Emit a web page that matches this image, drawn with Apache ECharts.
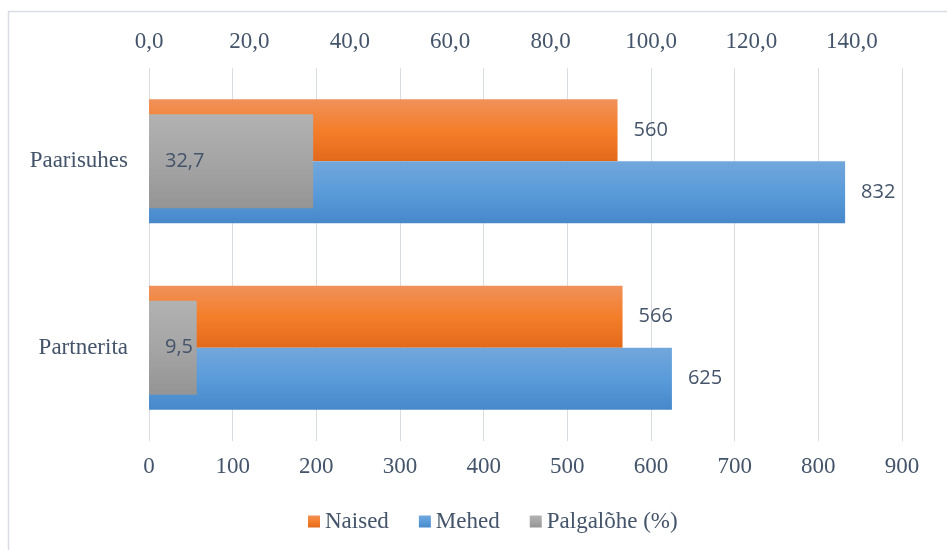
<!DOCTYPE html>
<html>
<head>
<meta charset="utf-8">
<script src="https://cdn.jsdelivr.net/npm/echarts@6/dist/echarts.min.js"></script>
<style>
  html, body { margin: 0; padding: 0; background: #fff; }
  #chart { width: 947px; height: 550px; }
</style>
</head>
<body>
<div id="chart"></div>
<script>
// Categories and series values
const categories = ['Paarisuhes', 'Partnerita'];
const naised = [560, 566];
const mehed = [832, 625];
const palgalohe = [32.7, 9.5];

// Axis ranges
const countMin = 0, countMax = 900, countStep = 100;
const pctMin = 0, pctMax = 150, pctStep = 20;

const serif = '"Liberation Serif", "Times New Roman", serif';
const sans = '"Open Sans", "Noto Sans", sans-serif';
const textColor = '#44546A';

const comma1 = v => v.toFixed(1).replace('.', ',');

function vGrad(c0, c1, c2) {
  return new echarts.graphic.LinearGradient(0, 0, 0, 1, [
    { offset: 0, color: c0 },
    { offset: 0.5, color: c1 },
    { offset: 1, color: c2 }
  ]);
}

const chart = echarts.init(document.getElementById('chart'), null, { renderer: 'canvas' });

const valueLabel = {
  show: true,
  position: 'right',
  distance: 16,
  fontFamily: sans,
  fontSize: 20,
  color: textColor
};

chart.setOption({
  animation: false,
  backgroundColor: '#ffffff',
  textStyle: { fontFamily: serif },
  graphic: [{
    type: 'rect',
    shape: { x: 8.5, y: 11.5, width: 960, height: 560 },
    style: { fill: 'none', stroke: '#D9DDE3', lineWidth: 1.5 },
    silent: true
  }],
  grid: { left: 149, right: 45, top: 68, bottom: 109, containLabel: false },
  legend: {
    left: 303,
    top: 505,
    itemWidth: 12,
    itemHeight: 12,
    itemGap: 30,
    icon: 'rect',
    formatter: name => '{t|' + name + '}',
    textStyle: {
      fontFamily: 'Liberation Serif', fontSize: 23, color: textColor,
      rich: { t: { fontFamily: 'Liberation Serif', fontSize: 23, color: textColor } }
    },
    data: ['Naised', 'Mehed', 'Palgalõhe (%)']
  },
  xAxis: [{
    type: 'value',
    position: 'bottom',
    min: countMin, max: countMax, interval: countStep,
    axisLine: { show: false },
    axisTick: { show: false },
    splitLine: { show: true, lineStyle: { color: '#D9DDE3', width: 1 } },
    axisLabel: { fontFamily: serif, fontSize: 23, color: textColor, margin: 14 }
  }, {
    type: 'value',
    position: 'top',
    min: pctMin, max: pctMax, interval: pctStep,
    axisLine: { show: false },
    axisTick: { show: false },
    splitLine: { show: false },
    axisLabel: {
      fontFamily: serif, fontSize: 23, color: textColor, margin: 15,
      showMaxLabel: false,
      formatter: v => (v > 140 ? '' : comma1(v))
    }
  }],
  yAxis: [{
    type: 'category',
    data: categories,
    inverse: true,
    axisLine: { show: false },
    axisTick: { show: false },
    axisLabel: { fontFamily: serif, fontSize: 23, color: textColor, margin: 21 }
  }, {
    type: 'category',
    data: categories,
    inverse: true,
    show: false
  }],
  series: [{
    name: 'Naised',
    type: 'bar',
    xAxisIndex: 0, yAxisIndex: 0,
    data: naised,
    barWidth: 62,
    barGap: '0%',
    itemStyle: { color: vGrad('#F0915A', '#F47E2A', '#E3691A') },
    label: valueLabel
  }, {
    name: 'Mehed',
    type: 'bar',
    xAxisIndex: 0, yAxisIndex: 0,
    data: mehed,
    barWidth: 62,
    barGap: '0%',
    itemStyle: { color: vGrad('#72A7DC', '#5A9BDA', '#4688CA') },
    label: valueLabel
  }, {
    name: 'Palgalõhe (%)',
    type: 'bar',
    xAxisIndex: 1, yAxisIndex: 1,
    data: palgalohe,
    barWidth: 94,
    z: 3,
    itemStyle: { color: vGrad('#B2B2B2', '#A5A5A5', '#949494') },
    label: {
      show: true,
      position: 'insideLeft',
      distance: 16,
      fontFamily: sans,
      fontSize: 20,
      color: textColor,
      formatter: p => comma1(p.value)
    }
  }]
});
</script>
</body>
</html>
